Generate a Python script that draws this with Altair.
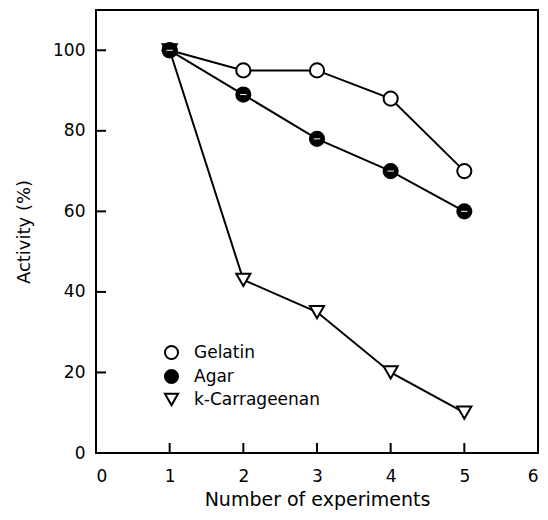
import altair as alt
import pandas as pd

experiments = [1, 2, 3, 4, 5]
gelatin = [100, 95, 95, 88, 70]
agar = [100, 89, 78, 70, 60]
carrageenan = [100, 43, 35, 20, 10]
series_names = ["Gelatin", "Agar", "k-Carrageenan"]
draw_order = ["k-Carrageenan", "Gelatin", "Agar"]
x_ticks = [0, 1, 2, 3, 4, 5, 6]
y_ticks = [0, 20, 40, 60, 80, 100]

values = {"Gelatin": gelatin, "Agar": agar, "k-Carrageenan": carrageenan}
rows = []
for name in draw_order:
    for e, v in zip(experiments, values[name]):
        rows.append({"series": name, "x": e, "y": v})
df = pd.DataFrame(rows)

W, H = 442, 443
FONT = "DejaVu Sans"

xs = alt.Scale(domain=[0, 6], nice=False, zero=False)
ys = alt.Scale(domain=[0, 110], nice=False, zero=False)

x_axis = alt.Axis(values=x_ticks, format="d", title="Number of experiments",
                  labelPadding=15, titlePadding=6, grid=False, ticks=False, domain=False,
                  labelFont=FONT, labelFontSize=17, labelColor="black",
                  titleFont=FONT, titleFontSize=19, titleColor="black", titleFontWeight="normal")
y_axis = alt.Axis(values=y_ticks, format="d", title="Activity (%)",
                  labelPadding=11, titlePadding=19, grid=False, ticks=False, domain=False,
                  labelFont=FONT, labelFontSize=17, labelColor="black",
                  titleFont=FONT, titleFontSize=18, titleColor="black", titleFontWeight="normal")

lines = alt.Chart(df).mark_line(color="black", strokeWidth=2).encode(
    x=alt.X("x:Q", scale=xs, axis=x_axis),
    y=alt.Y("y:Q", scale=ys, axis=y_axis),
    detail="series:N",
)

leg = alt.Legend(orient="none", legendX=67, legendY=334, title=None,
                 labelFontSize=17, labelFont=FONT, labelColor="black",
                 symbolStrokeColor="black", symbolStrokeWidth=2,
                 symbolSize=170, rowPadding=1, labelOffset=14, padding=0)

points = alt.Chart(df).mark_point(size=200, strokeWidth=2, opacity=1, filled=True).encode(
    x=alt.X("x:Q", scale=xs),
    y=alt.Y("y:Q", scale=ys),
    shape=alt.Shape("series:N",
                    scale=alt.Scale(domain=series_names, range=["circle", "circle", "triangle-down"]),
                    legend=leg),
    fill=alt.Fill("series:N",
                  scale=alt.Scale(domain=series_names, range=["white", "black", "white"]),
                  legend=leg),
    stroke=alt.Stroke("series:N",
                      scale=alt.Scale(domain=series_names, range=["black", "black", "black"]),
                      legend=leg),
)

agar_df = df[df["series"] == "Agar"]
dash = alt.Chart(agar_df).mark_point(shape="M-0.45,0L0.45,0", size=200, stroke="white",
                                     strokeWidth=1, opacity=1).encode(
    x=alt.X("x:Q", scale=xs),
    y=alt.Y("y:Q", scale=ys),
)

ytick_df = pd.DataFrame({"y": y_ticks})
xtick_df = pd.DataFrame({"x": x_ticks})

yticks = alt.Chart(ytick_df).mark_rule(color="black", strokeWidth=2).encode(
    y=alt.Y("y:Q", scale=ys), x=alt.value(0), x2=alt.value(10))
xticks = alt.Chart(xtick_df).mark_rule(color="black", strokeWidth=2).encode(
    x=alt.X("x:Q", scale=xs), y=alt.value(H), y2=alt.value(H - 10))

chart = alt.layer(lines, yticks, xticks, points, dash).properties(
    width=W, height=H,
    background="white",
    autosize=alt.AutoSizeParams(type="none"),
    padding={"left": 88, "top": 2, "right": 2, "bottom": 59},
).configure_view(
    stroke="black", strokeWidth=2
)

chart.save("out.html", embed_options={"renderer": "svg", "actions": False})
